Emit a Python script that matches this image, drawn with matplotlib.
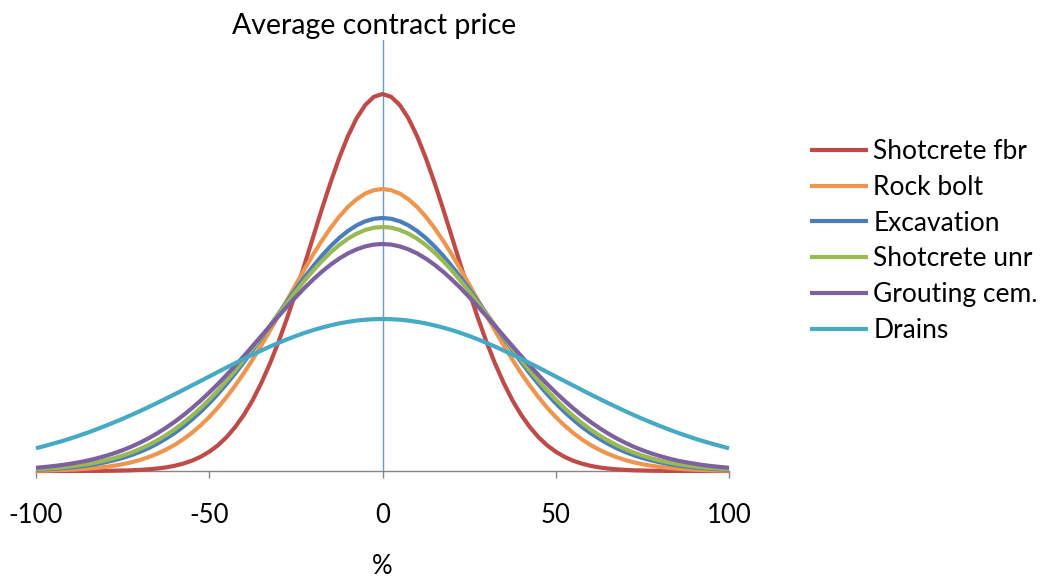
import matplotlib
matplotlib.use("Agg")
import matplotlib.pyplot as plt

plt.rcParams['font.family'] = ['Lato', 'DejaVu Sans']

# x positions (% deviation from average contract price)
x_pct = [-100.0, -97.5, -95.0, -92.5, -90.0, -87.5, -85.0, -82.5, -80.0, -77.5,
         -75.0, -72.5, -70.0, -67.5, -65.0, -62.5, -60.0, -57.5, -55.0, -52.5,
         -50.0, -47.5, -45.0, -42.5, -40.0, -37.5, -35.0, -32.5, -30.0, -27.5,
         -25.0, -22.5, -20.0, -17.5, -15.0, -12.5, -10.0, -7.5, -5.0, -2.5,
         0.0,
         2.5, 5.0, 7.5, 10.0, 12.5, 15.0, 17.5, 20.0, 22.5, 25.0,
         27.5, 30.0, 32.5, 35.0, 37.5, 40.0, 42.5, 45.0, 47.5, 50.0,
         52.5, 55.0, 57.5, 60.0, 62.5, 65.0, 67.5, 70.0, 72.5, 75.0,
         77.5, 80.0, 82.5, 85.0, 87.5, 90.0, 92.5, 95.0, 97.5, 100.0]

shotcrete_fbr = [0.0, 0.0, 0.0, 0.0, 0.0, 0.0, 0.1, 0.1, 0.2, 0.3,
                 0.5, 0.7, 1.1, 1.7, 2.5, 3.6, 5.2, 7.4, 10.3, 14.2,
                 19.3, 25.7, 33.9, 44.0, 56.2, 70.7, 87.8, 107.3, 129.2, 153.3,
                 179.2, 206.4, 234.2, 261.9, 288.4, 313.0, 334.7, 352.6, 365.9, 374.2,
                 377.0,
                 374.2, 365.9, 352.6, 334.7, 313.0, 288.4, 261.9, 234.2, 206.4, 179.2,
                 153.3, 129.2, 107.3, 87.8, 70.7, 56.2, 44.0, 33.9, 25.7, 19.3,
                 14.2, 10.3, 7.4, 5.2, 3.6, 2.5, 1.7, 1.1, 0.7, 0.5,
                 0.3, 0.2, 0.1, 0.1, 0.0, 0.0, 0.0, 0.0, 0.0, 0.0]

rock_bolt = [0.4, 0.5, 0.7, 1.0, 1.3, 1.8, 2.4, 3.1, 4.1, 5.3,
             6.8, 8.7, 11.0, 13.9, 17.3, 21.3, 26.1, 31.7, 38.2, 45.6,
             54.0, 63.4, 73.9, 85.4, 97.9, 111.3, 125.5, 140.3, 155.5, 171.0,
             186.5, 201.8, 216.5, 230.3, 243.0, 254.3, 264.0, 271.7, 277.4, 280.8,
             282.0,
             280.8, 277.4, 271.7, 264.0, 254.3, 243.0, 230.3, 216.5, 201.8, 186.5,
             171.0, 155.5, 140.3, 125.5, 111.3, 97.9, 85.4, 73.9, 63.4, 54.0,
             45.6, 38.2, 31.7, 26.1, 21.3, 17.3, 13.9, 11.0, 8.7, 6.8,
             5.3, 4.1, 3.1, 2.4, 1.8, 1.3, 1.0, 0.7, 0.5, 0.4]

excavation = [1.3, 1.7, 2.2, 2.8, 3.5, 4.5, 5.6, 7.0, 8.7, 10.7,
              13.0, 15.8, 19.1, 22.9, 27.3, 32.3, 37.9, 44.3, 51.4, 59.2,
              67.7, 77.0, 87.0, 97.6, 108.9, 120.6, 132.7, 145.0, 157.4, 169.8,
              182.0, 193.7, 204.9, 215.3, 224.7, 233.0, 240.0, 245.6, 249.7, 252.2,
              253.0,
              252.2, 249.7, 245.6, 240.0, 233.0, 224.7, 215.3, 204.9, 193.7, 182.0,
              169.8, 157.4, 145.0, 132.7, 120.6, 108.9, 97.6, 87.0, 77.0, 67.7,
              59.2, 51.4, 44.3, 37.9, 32.3, 27.3, 22.9, 19.1, 15.8, 13.0,
              10.7, 8.7, 7.0, 5.6, 4.5, 3.5, 2.8, 2.2, 1.7, 1.3]

shotcrete_unr = [1.8, 2.3, 2.9, 3.6, 4.6, 5.7, 7.0, 8.6, 10.5, 12.8,
                 15.4, 18.4, 22.0, 26.0, 30.6, 35.8, 41.6, 48.1, 55.2, 63.0,
                 71.4, 80.5, 90.2, 100.4, 111.2, 122.3, 133.7, 145.2, 156.8, 168.3,
                 179.5, 190.3, 200.5, 209.9, 218.5, 226.0, 232.3, 237.3, 241.0, 243.3,
                 244.0,
                 243.3, 241.0, 237.3, 232.3, 226.0, 218.5, 209.9, 200.5, 190.3, 179.5,
                 168.3, 156.8, 145.2, 133.7, 122.3, 111.2, 100.4, 90.2, 80.5, 71.4,
                 63.0, 55.2, 48.1, 41.6, 35.8, 30.6, 26.0, 22.0, 18.4, 15.4,
                 12.8, 10.5, 8.6, 7.0, 5.7, 4.6, 3.6, 2.9, 2.3, 1.8]

grouting_cem = [3.2, 4.0, 4.9, 6.0, 7.3, 8.8, 10.5, 12.6, 15.0, 17.7,
                20.8, 24.3, 28.3, 32.7, 37.7, 43.2, 49.2, 55.7, 62.8, 70.4,
                78.5, 87.0, 96.0, 105.4, 115.0, 124.9, 134.9, 144.9, 154.8, 164.6,
                174.0, 183.1, 191.5, 199.3, 206.3, 212.4, 217.6, 221.6, 224.6, 226.4,
                227.0,
                226.4, 224.6, 221.6, 217.6, 212.4, 206.3, 199.3, 191.5, 183.1, 174.0,
                164.6, 154.8, 144.9, 134.9, 124.9, 115.0, 105.4, 96.0, 87.0, 78.5,
                70.4, 62.8, 55.7, 49.2, 43.2, 37.7, 32.7, 28.3, 24.3, 20.8,
                17.7, 15.0, 12.6, 10.5, 8.8, 7.3, 6.0, 4.9, 4.0, 3.2]

drains = [22.7, 25.0, 27.4, 29.9, 32.6, 35.5, 38.5, 41.7, 45.1, 48.6,
          52.2, 56.0, 59.9, 64.0, 68.1, 72.4, 76.7, 81.1, 85.6, 90.0,
          94.5, 99.0, 103.5, 107.8, 112.2, 116.4, 120.4, 124.4, 128.1, 131.7,
          135.0, 138.1, 140.9, 143.4, 145.6, 147.6, 149.1, 150.4, 151.3, 151.8,
          152.0,
          151.8, 151.3, 150.4, 149.1, 147.6, 145.6, 143.4, 140.9, 138.1, 135.0,
          131.7, 128.1, 124.4, 120.4, 116.4, 112.2, 107.8, 103.5, 99.0, 94.5,
          90.0, 85.6, 81.1, 76.7, 72.4, 68.1, 64.0, 59.9, 56.0, 52.2,
          48.6, 45.1, 41.7, 38.5, 35.5, 32.6, 29.9, 27.4, 25.0, 22.7]

series_names = ["Shotcrete fbr", "Rock bolt", "Excavation",
                "Shotcrete unr", "Grouting cem.", "Drains"]
series_values = [shotcrete_fbr, rock_bolt, excavation,
                 shotcrete_unr, grouting_cem, drains]
series_colors = ["#BE4B48", "#EE9550", "#4A7EBB", "#98B954", "#7D60A0", "#46AAC5"]

tick_values = [-100, -50, 0, 50, 100]
tick_labels = ["-100", "-50", "0", "50", "100"]

W, H = 1041, 583
fig = plt.figure(figsize=(W / 100, H / 100), dpi=100)
fig.patch.set_facecolor("white")

ax_left, ax_right, ax_top, ax_bottom = 36, 729, 40, 471
ax = fig.add_axes([ax_left / W, 1 - ax_bottom / H,
                   (ax_right - ax_left) / W, (ax_bottom - ax_top) / H])
ax.set_xlim(-100, 100)
ax.set_ylim(0, ax_bottom - ax_top)

ax.axvline(0, color="#6F9BCB", lw=1.0, zorder=1)

for name, vals, col in zip(series_names, series_values, series_colors):
    ax.plot(x_pct, vals, color=col, lw=3.0, label=name, clip_on=False,
            zorder=3, solid_joinstyle="round", solid_capstyle="butt")

for s in ["top", "right", "left"]:
    ax.spines[s].set_visible(False)
ax.spines["bottom"].set_color("#868686")
ax.spines["bottom"].set_linewidth(1.0)
ax.spines["bottom"].set_zorder(2)

ax.set_yticks([])
ax.set_xticks(tick_values)
ax.set_xticklabels(tick_labels)
ax.tick_params(axis="x", direction="out", length=5, width=1.0,
               color="#868686", labelsize=18.5, pad=18, labelcolor="black")

fig.text(374 / W, 1 - 26 / H, "Average contract price", ha="center",
         va="center", fontsize=20.5, color="black")
fig.text(382 / W, 1 - 566 / H, "%", ha="center", va="center",
         fontsize=18.5, color="black")

leg = ax.legend(loc="upper left", bbox_to_anchor=(810 / W, 1 - 139 / H),
                bbox_transform=fig.transFigure, frameon=False, fontsize=19,
                handlelength=2.2, handletextpad=0.2, labelspacing=0.41,
                borderpad=0, borderaxespad=0)
for line in leg.get_lines():
    line.set_linewidth(3.0)

fig.savefig("out.png", dpi=100, facecolor="white")
